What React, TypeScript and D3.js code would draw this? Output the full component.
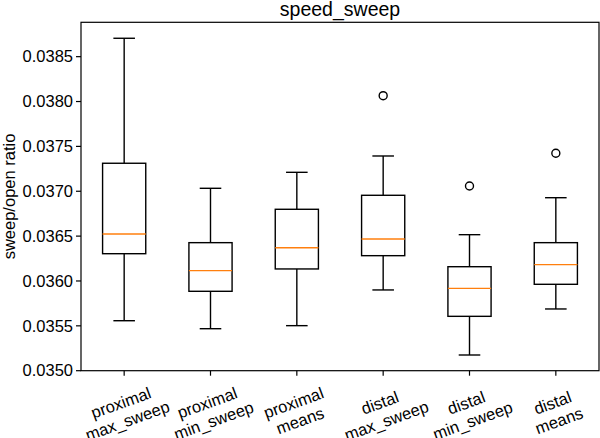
import React from "react";
import * as d3 from "d3";

const categories = [
  ["proximal", "max_sweep"],
  ["proximal", "min_sweep"],
  ["proximal", "means"],
  ["distal", "max_sweep"],
  ["distal", "min_sweep"],
  ["distal", "means"],
];
const whiskerHigh = [0.038705, 0.037033, 0.037211, 0.037393, 0.036516, 0.036928];
const q3s = [0.037312, 0.036427, 0.036799, 0.036955, 0.036159, 0.036427];
const medians = [0.036524, 0.036115, 0.036371, 0.036468, 0.035918, 0.036182];
const q1s = [0.036304, 0.035885, 0.036134, 0.036282, 0.035606, 0.035963];
const whiskerLow = [0.035557, 0.035468, 0.035502, 0.0359, 0.035175, 0.035688];
const outliers: number[][] = [[], [], [], [0.038065], [0.037059], [0.037423]];
const yTicks = [0.035, 0.0355, 0.036, 0.0365, 0.037, 0.0375, 0.038, 0.0385];

const W = 600;
const H = 438;
const left = 81;
const right = 599;
const top = 22.3;
const bottom = 370.7;
const font = "Arial, 'Liberation Sans', Helvetica, sans-serif";

export default function App() {
  const x = d3
    .scaleBand<number>()
    .domain(d3.range(categories.length))
    .range([left, right])
    .paddingInner(0)
    .paddingOuter(0);
  const y = d3.scaleLinear().domain([0.035, 0.038883]).range([bottom, top]);
  const bw = x.bandwidth();
  const boxW = bw * 0.5;
  const capW = bw * 0.25;
  const lw = 1.4;

  return (
    <svg
      width={W}
      height={H}
      style={{ position: "absolute", left: 0, top: 0, background: "#fff" }}
      fontFamily={font}
    >
      <rect x={0} y={0} width={W} height={H} fill="#fff" />
      <text x={(left + right) / 2} y={16} textAnchor="middle" fontSize={19.5} fill="#000">
        speed_sweep
      </text>

      {categories.map((c, i) => {
        const cx = x(i)! + bw / 2;
        return (
          <g key={i} stroke="#000" strokeWidth={lw} fill="none">
            <line x1={cx} x2={cx} y1={y(q3s[i])} y2={y(whiskerHigh[i])} />
            <line x1={cx} x2={cx} y1={y(q1s[i])} y2={y(whiskerLow[i])} />
            <line x1={cx - capW / 2} x2={cx + capW / 2} y1={y(whiskerHigh[i])} y2={y(whiskerHigh[i])} />
            <line x1={cx - capW / 2} x2={cx + capW / 2} y1={y(whiskerLow[i])} y2={y(whiskerLow[i])} />
            <rect
              x={cx - boxW / 2}
              y={y(q3s[i])}
              width={boxW}
              height={y(q1s[i]) - y(q3s[i])}
            />
            <line
              x1={cx - boxW / 2}
              x2={cx + boxW / 2}
              y1={y(medians[i])}
              y2={y(medians[i])}
              stroke="#ff7f0e"
            />
            {outliers[i].map((v, j) => (
              <circle key={j} cx={cx} cy={y(v)} r={4} />
            ))}
          </g>
        );
      })}

      {/* frame */}
      <rect
        x={left}
        y={top}
        width={right - left}
        height={bottom - top}
        fill="none"
        stroke="#000"
        strokeWidth={1.2}
      />

      {/* y axis */}
      {yTicks.map((t) => (
        <g key={t}>
          <line x1={left - 5} x2={left} y1={y(t)} y2={y(t)} stroke="#000" strokeWidth={1.2} />
          <text
            x={left - 8}
            y={y(t)}
            dy="0.35em"
            textAnchor="end"
            fontSize={16.5}
            fill="#000"
          >
            {t.toFixed(4)}
          </text>
        </g>
      ))}
      <text
        transform={`translate(15, ${(top + bottom) / 2}) rotate(-90)`}
        textAnchor="middle"
        fontSize={16.5}
        fill="#000"
      >
        sweep/open ratio
      </text>

      {/* x axis */}
      {categories.map((c, i) => {
        const cx = x(i)! + bw / 2;
        return (
          <g key={i}>
            <line x1={cx} x2={cx} y1={bottom} y2={bottom + 5} stroke="#000" strokeWidth={1.2} />
            <g transform={`translate(${cx}, ${bottom + 41}) rotate(-20)`}>
              {c.map((line, k) => (
                <text
                  key={k}
                  x={0}
                  y={(k - 0.5) * 19}
                  dy="0.35em"
                  textAnchor="middle"
                  fontSize={16.5}
                  fill="#000"
                >
                  {line}
                </text>
              ))}
            </g>
          </g>
        );
      })}
    </svg>
  );
}
